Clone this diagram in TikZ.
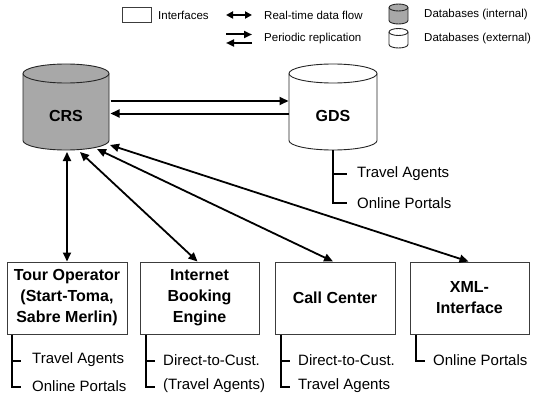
\documentclass[tikz,border=0pt]{standalone}
\usepackage{fontspec}
\setmainfont{Liberation Sans}
\usetikzlibrary{arrows.meta}
\definecolor{boxgray}{RGB}{60,60,60}
\definecolor{dbgray}{RGB}{168,168,168}
\newcommand\dbcyl[6]{%
  \draw[cylline, fill=#6] ({#1-#4},#2) -- ({#1-#4},#3)
    arc[start angle=180, end angle=360, x radius=#4pt, y radius=#5pt]
    -- ({#1+#4},#2)
    arc[start angle=0, end angle=180, x radius=#4pt, y radius=#5pt] -- cycle;
  \draw[cylline] ({#1-#4},#2)
    arc[start angle=180, end angle=360, x radius=#4pt, y radius=#5pt];}
\tikzset{
  cylline/.style={draw=black!85, line width=0.9pt},
  ifbox/.style={draw=boxgray, line width=1pt, minimum width=120pt, minimum height=72pt,
    inner sep=0pt, align=center, font=\fontsize{16}{21}\selectfont\bfseries},
  dblabel/.style={inner sep=0pt, font=\fontsize{16}{21}\selectfont\bfseries},
  branch/.style={line width=2pt, line cap=butt, line join=miter},
  lbl/.style={anchor=west, inner sep=0pt, font=\fontsize{15}{18}\selectfont},
  leg/.style={anchor=west, inner sep=0pt, font=\fontsize{11.5}{13}\selectfont},
  flow/.style={line width=1.8pt, {Triangle[length=9pt,width=8pt]}-{Triangle[length=9pt,width=8pt]}},
  repl/.style={line width=2pt, -{Triangle[length=9pt,width=8pt]}},
  flowleg/.style={line width=1.8pt, {Triangle[length=7pt,width=7pt]}-{Triangle[length=7pt,width=7pt]}},
  replleg/.style={line width=2pt, -{Triangle[length=8pt,width=7pt]}},
}
\begin{document}
\begin{tikzpicture}[x=1pt, y=-1pt]
\useasboundingbox (0,0) rectangle (537,401);

% ---------- legend ----------
\node[draw=boxgray, line width=1pt, minimum width=29pt, minimum height=15pt, inner sep=0pt] (legbox) at (136.5,15) {};
\node[leg] (legif) at (158,15) {Interfaces};
\coordinate (rtA) at (226,15);
\coordinate (rtB) at (252,15);
\draw[flowleg] (rtA) -- (rtB);
\node[leg] (legrt) at (264,15) {Real-time data flow};
\coordinate (prA) at (226,34.5);
\coordinate (prB) at (252,34.5);
\coordinate (prC) at (252,43);
\coordinate (prD) at (226,43);
\draw[replleg] (prA) -- (prB);
\draw[replleg] (prC) -- (prD);
\node[leg] (legpr) at (264,38.5) {Periodic replication};
\dbcyl{398.5}{7.5}{20.5}{9.5}{3.5}{dbgray}
\dbcyl{398.5}{32}{44.5}{9.5}{3.5}{white}
\node[leg] (legdi) at (424,15) {Databases (internal)};
\node[leg] (legde) at (424,38.5) {Databases (external)};

% ---------- databases ----------
\dbcyl{66}{73.5}{140.5}{43}{9.5}{dbgray}
\node[dblabel] (crs) at (66,115.5) {CRS};
\dbcyl{333}{73.5}{140.5}{44}{9.5}{white}
\node[dblabel] (gds) at (333,115.5) {GDS};

\coordinate (crsR1) at (110.5,101);
\coordinate (crsR2) at (110.5,113.5);
\coordinate (gdsL1) at (288.5,101);
\coordinate (gdsL2) at (288.5,113.5);
\draw[repl] (crsR1) -- (gdsL1);
\draw[repl] (gdsL2) -- (crsR2);

% GDS branches
\coordinate (gdsB) at (333,150);
\draw[branch] (gdsB) -- (333,203) -- (347,203);
\draw[branch] (333,173.5) -- (347,173.5);
\node[lbl] (gdsta) at (357,173.5) {Travel Agents};
\node[lbl] (gdsop) at (357,203) {Online Portals};

% ---------- interface boxes ----------
\node[ifbox] (tour) at (67,298) {Tour Operator\\(Start-Toma,\\Sabre Merlin)};
\node[ifbox, minimum width=119pt] (ibe) at (199.5,298) {Internet\\Booking\\Engine};
\node[ifbox] (cc) at (335,298) {Call Center};
\node[ifbox, minimum width=119pt] (xml) at (469.5,298) {XML-\\Interface};

% CRS <-> boxes
\coordinate (crsB1) at (67,152);
\coordinate (crsB2) at (80,152);
\coordinate (crsB3) at (97,149);
\coordinate (crsB4) at (110,145);
\draw[flow] (crsB1) -- (tour.north);
\draw[flow] (crsB2) -- ([xshift=-2pt]ibe.north);
\draw[flow] (crsB3) -- ([xshift=-2pt]cc.north);
\draw[flow] (crsB4) -- ([xshift=-1pt]xml.north);

% box branches
\draw[branch] ([xshift=5.5pt]tour.south west) -- ++(0,52) -- ++(9,0);
\draw[branch] ([xshift=5.5pt]tour.south west) ++(0,26) -- ++(9,0);
\node[lbl] (t1) at (32,360) {Travel Agents};
\node[lbl] (t2) at (32,386) {Online Portals};

\draw[branch] ([xshift=6pt]ibe.south west) -- ++(0,52) -- ++(9,0);
\draw[branch] ([xshift=6pt]ibe.south west) ++(0,26) -- ++(9,0);
\node[lbl] (i1) at (163,360) {Direct-to-Cust.};
\node[lbl] (i2) at (163,386) {(Travel Agents)};

\draw[branch] ([xshift=6pt]cc.south west) -- ++(0,52) -- ++(9,0);
\draw[branch] ([xshift=6pt]cc.south west) ++(0,26) -- ++(9,0);
\node[lbl] (c1) at (298,360) {Direct-to-Cust.};
\node[lbl] (c2) at (298,386) {Travel Agents};

\draw[branch] ([xshift=6pt]xml.south west) -- ++(0,26) -- ++(9,0);
\node[lbl] (x1) at (433,360) {Online Portals};
\end{tikzpicture}
\end{document}
